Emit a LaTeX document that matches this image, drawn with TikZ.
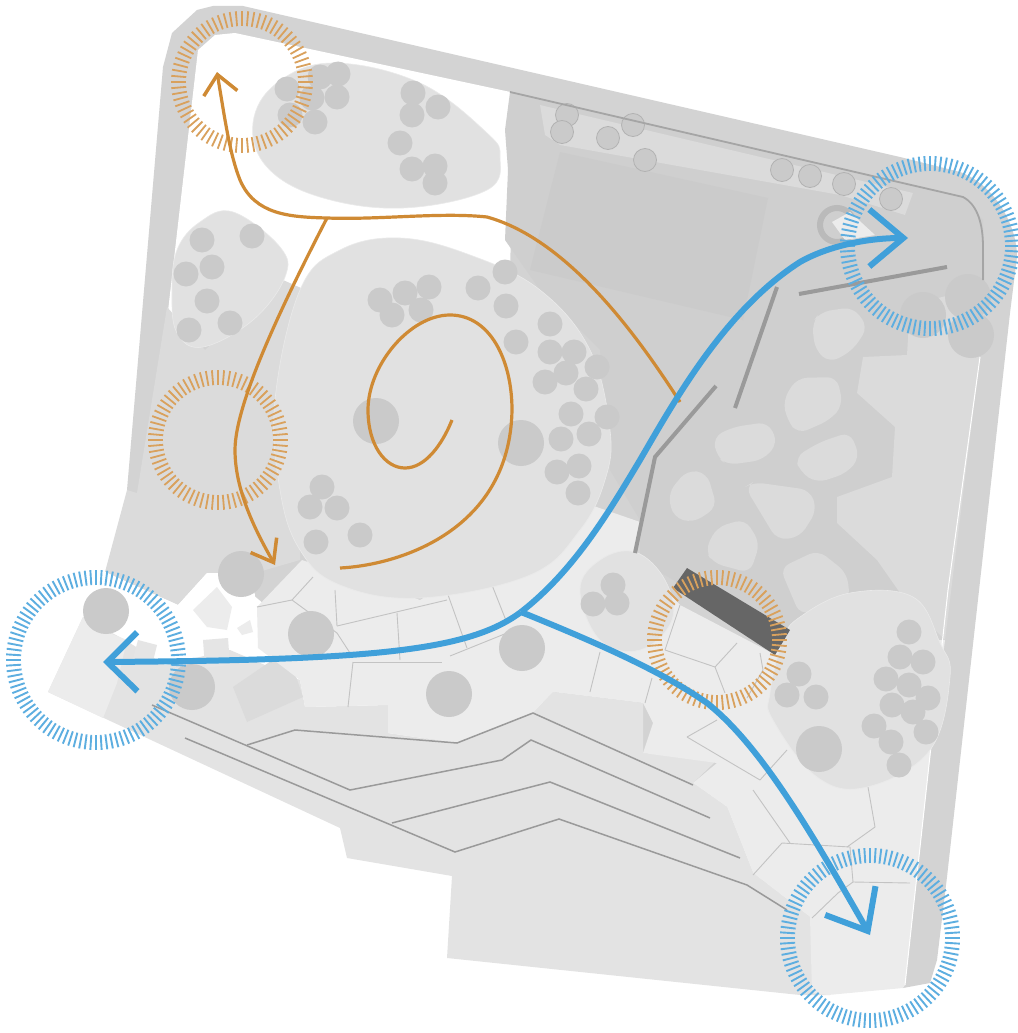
\documentclass[tikz,border=0pt]{standalone}
\usepackage{xcolor}
\usetikzlibrary{arrows.meta,calc}
\definecolor{gardenband}{RGB}{211,211,211}
\definecolor{gardencourt}{RGB}{207,207,207}
\definecolor{gardenbed}{RGB}{225,225,225}
\definecolor{gardenside}{RGB}{219,219,219}
\definecolor{gardenterrace}{RGB}{227,227,227}
\definecolor{gardenpave}{RGB}{236,236,236}
\definecolor{gardenstep}{RGB}{229,229,229}
\definecolor{gardentree}{RGB}{202,202,202}
\definecolor{gardenwall}{RGB}{154,154,154}
\definecolor{gardenjoint}{RGB}{195,195,195}
\definecolor{routeblue}{RGB}{64,160,218}
\definecolor{routeorange}{RGB}{207,138,52}
\newcommand{\hatchring}[6]{
  \foreach \a in {0,#4,...,359}
    \draw[#6] ($(#1,#2)+(\a:#3-#5)$) -- ($(#1,#2)+(\a:#3)$);
}
\begin{document}
\begin{tikzpicture}[
  x=1pt, y=-1pt,
  bed/.style={fill=gardenbed, draw=gardenbed!70!white, line width=0.6pt},
  stone/.style={fill=gardenside, rounded corners=10pt},
  tree/.style={fill=gardentree},
  wall/.style={draw=gardenwall, line width=4pt},
  terraceline/.style={draw=gardenwall, line width=1.5pt},
  joint/.style={draw=gardenjoint, line width=0.9pt},
  ticksblue/.style={draw=routeblue!85, line width=1.9pt},
  ticksorange/.style={draw=routeorange!80, line width=1.8pt},
  bluepath/.style={draw=routeblue, line width=6pt},
  orangepath/.style={draw=routeorange, line width=3.2pt}
]
  \useasboundingbox (0,0) rectangle (1017,1033);

  \fill[gardenband] (127,490) -- (163,67) -- (172,33) -- (197,10) -- (213,6) -- (243,6) -- (900,157)
    -- (960,172) .. controls (995,185) and (1017,225) .. (1017,257) -- (1010,313) -- (947,877) -- (937,960)
    -- (930,983) -- (903,988) -- (500,800) -- cycle;
  \fill[white] (198,50) -- (215,35) -- (235,33) -- (515,93) -- (510,270) -- (300,315) -- (167,320) -- cycle;
  \fill[gardenside] (137,493) -- (167,307) -- (205,350) -- (283,280) -- (310,292) -- (300,480) -- (300,560)
    -- (255,573) -- (207,573) -- (178,605) -- (105,572) -- (127,490) -- cycle;
  \fill[gardencourt] (510,92) -- (963,197) -- (983,220) -- (985,290) -- (980,357) -- (948,600) -- (790,650)
    -- (640,560) -- (640,520) -- (610,470) -- (600,350) -- (540,290) -- (505,240) -- (508,170) -- (505,130) -- cycle;

  \fill[white] (105,572) -- (178,605) -- (207,573) -- (252,573) -- (262,650) -- (165,680) -- (90,640) -- cycle;
  \fill[gardenpave] (193,610) -- (217,587) -- (232,607) -- (227,630) -- (207,627) -- cycle;
  \fill[gardenpave] (237,628) -- (250,620) -- (253,632) -- (242,635) -- cycle;

  \fill[gardenterrace] (83,617) -- (48,692) -- (340,828) -- (347,858) -- (452,876) -- (447,958) -- (800,995)
    -- (830,995) -- (810,917) -- (753,873) -- (727,807) -- (693,783) -- (717,760) -- (643,753) -- (643,703)
    -- (553,692) -- (533,713) -- (457,743) -- (388,733) -- (388,705) -- (305,707) -- (300,680) -- (230,650)
    -- (165,665) -- (125,640) -- cycle;
  \fill[gardenpave] (83,617) -- (48,692) -- (103,718) -- (117,683) -- (127,640) -- (107,632) -- cycle;
  \fill[gardenstep] (203,640) -- (228,638) -- (230,665) -- (205,668) -- cycle;
  \fill[gardenstep] (138,640) -- (157,645) -- (152,665) -- (132,662) -- cycle;
  \fill[gardenside] (233,687) -- (287,650) -- (303,697) -- (247,722) -- cycle;

  \fill[gardenpave] (257,607) -- (302,560) -- (420,600) -- (585,503) -- (640,522) -- (635,552) -- (680,605)
    -- (770,652) -- (800,640) -- (945,640) -- (930,757) -- (905,985) -- (903,988) -- (828,995) -- (812,993) -- (810,917)
    -- (753,873) -- (727,807) -- (693,783) -- (717,763) -- (643,753) -- (653,723) -- (643,703) -- (553,692) -- (533,713)
    -- (457,743) -- (388,733) -- (388,705) -- (305,707) -- (300,680) -- (258,648) -- cycle;

  \fill[gardenside] (863,357) -- (907,355) -- (910,305) -- (950,295) -- (985,300) -- (980,357) -- (945,640)
    -- (905,600) -- (877,560) -- (837,523) -- (837,497) -- (892,477) -- (895,427) -- (857,393) -- cycle;
  \draw[white, line width=1pt] (980,357) -- (948,590) -- (905,985);

  \fill[gardentree!85!gardencourt] (560,152) -- (768,198) -- (743,320) -- (530,270) -- cycle;
  \fill[gardenside] (540,105) -- (913,193) -- (905,215) -- (840,195) -- (560,145) -- (545,135) -- cycle;

  \fill[stone] (812,323) -- (820,312) -- (853,307) -- (868,327) -- (853,350) -- (830,363) -- (815,350) -- cycle;
  \fill[stone] (783,400) -- (797,378) -- (837,377) -- (843,405) -- (830,420) -- (798,434) -- (787,420) -- cycle;
  \fill[stone] (713,437) -- (733,427) -- (768,422) -- (778,443) -- (763,460) -- (727,465) -- (717,457) -- cycle;
  \fill[stone] (795,457) -- (820,442) -- (850,432) -- (860,457) -- (847,473) -- (817,483) -- (800,472) -- cycle;
  \fill[stone] (668,493) -- (687,470) -- (707,473) -- (717,507) -- (693,523) -- (673,517) -- cycle;
  \fill[stone] (745,487) -- (753,482) -- (810,490) -- (817,510) -- (800,537) -- (777,540) -- cycle;
  \fill[stone] (705,550) -- (717,527) -- (745,519) -- (760,543) -- (750,573) -- (713,563) -- cycle;
  \fill[stone] (780,568) -- (818,550) -- (847,573) -- (850,600) -- (800,615) -- cycle;

  \foreach \xa/\ya/\xb/\yb in {257/607/292/600, 292/600/313/577, 292/600/337/633, 337/633/350/653,
      335/590/337/626, 337/626/447/600, 397/613/400/660, 447/592/467/648, 490/580/507/623, 450/656/507/633,
      353/662/442/662, 353/662/348/707, 600/652/590/692, 652/678/645/703, 680/605/665/650, 665/650/715/667,
      715/667/737/643, 715/667/725/693, 760/653/763/670, 763/670/747/698, 687/737/717/720, 687/737/760/780,
      760/780/787/750, 753/790/790/843, 868/787/875/827, 875/827/847/847, 782/843/850/847, 782/843/753/875,
      850/847/853/882, 853/882/910/883, 853/882/838/893, 838/893/812/918}
    \draw[joint] (\xa,\ya) -- (\xb,\yb);

  \draw[terraceline] (152,705) -- (350,790) -- (502,760) -- (531,740) -- (710,818);
  \draw[terraceline] (247,745) -- (295,730) -- (457,743) -- (533,713) -- (693,785);
  \draw[terraceline] (185,738) -- (455,852) -- (559,819) -- (747,885) -- (787,910);
  \draw[terraceline] (392,823) -- (550,782) -- (740,858);

  \draw[bed] plot[smooth cycle, tension=0.65] coordinates {(253,123) (277,83) (333,63) (420,83) (487,133)
    (500,157) (487,190) (403,208) (320,197) (267,167)};
  \draw[bed] plot[smooth cycle, tension=0.65] coordinates {(233,212) (280,247) (285,277) (253,320) (203,347)
    (177,333) (172,293) (177,250) (200,222)};
  \draw[bed] plot[smooth cycle, tension=0.65] coordinates {(300,290) (340,250) (400,238) (470,255) (540,290)
    (590,350) (610,430) (605,480) (580,530) (530,575) (420,598) (340,585) (300,550) (280,490) (275,400)};
  \draw[bed] plot[smooth cycle, tension=0.65] coordinates {(580,590) (600,560) (635,552) (665,580) (672,620)
    (640,650) (600,640)};
  \draw[bed] plot[smooth cycle, tension=0.65] coordinates {(800,617) (850,593) (913,597) (940,643) (950,677)
    (930,750) (867,787) (817,777) (773,720) (770,693) (783,640)};

  \foreach \x/\y in {287/89, 320/77, 338/74, 337/97, 312/98, 290/115, 315/122, 413/93, 438/107, 412/115,
      400/143, 412/169, 435/166, 435/183,
      202/240, 252/236, 186/274, 212/267, 207/301, 230/323, 189/330,
      380/300, 405/293, 429/287, 392/315, 421/310, 478/288, 505/272, 506/306, 516/342, 550/324, 550/352,
      574/352, 597/367, 566/373, 545/382, 586/389, 607/417, 571/414, 589/434, 561/439, 579/466, 557/472,
      578/493, 322/487, 310/507, 337/508, 316/542, 360/535,
      613/585, 593/604, 617/603,
      909/632, 900/657, 923/662, 886/679, 909/685, 928/698, 892/705, 913/712, 926/732, 874/726, 891/742,
      899/765, 799/674, 787/695, 816/697}
    \fill[tree] (\x,\y) circle (12.5pt);

  \foreach \x/\y in {376/421, 521/443, 241/574, 106/611, 192/687, 311/634, 449/694, 522/648, 819/749,
      923/315, 968/297, 971/335}
    \fill[tree] (\x,\y) circle (23pt);

  \foreach \x/\y in {567/115, 562/132, 608/138, 633/125, 645/160, 782/170, 810/176, 844/184, 891/199}
    \filldraw[fill=gardentree, draw=gardentree!88!black, line width=0.8pt] (\x,\y) circle (11.5pt);
  \draw[gardentree!92!black, line width=6pt] (837,225) circle (17pt);
  \fill[gardenpave] (832,222) -- (850,212) -- (875,235) -- (845,240) -- cycle;

  \draw[gardenwall!80!gardencourt, line width=1.8pt] (510,92) -- (963,197) .. controls (978,205) and (983,225) .. (983,247) -- (983,280);
  \draw[wall] (947,267) -- (799,294);
  \draw[wall] (777,287) -- (735,408);
  \draw[wall] (716,386) -- (655,457) -- (635,553);
  \fill[black!60] (687,568) -- (790,630) -- (775,655) -- (673,588) -- cycle;

  \hatchring{242}{82}{71}{5}{15}{ticksorange}
  \hatchring{218}{440}{70}{5}{15}{ticksorange}
  \hatchring{717}{640}{70}{5}{15}{ticksorange}
  \hatchring{96}{660}{90}{3.6}{15}{ticksblue}
  \hatchring{930}{246}{90}{3.6}{15}{ticksblue}
  \hatchring{870}{938}{90}{3.6}{15}{ticksblue}

  \coordinate (forkorange) at (327,218);
  \coordinate (forkblue) at (521,612);
  \draw[orangepath, -{Straight Barb[length=19pt,width=34pt,line width=3.5pt]}]
    (680,402) .. controls (640,340) and (570,240) .. (487,217) .. controls (440,212) and (380,220) .. (forkorange)
    .. controls (290,217) and (255,215) .. (240,180) .. controls (230,155) and (225,120) .. (217,72);
  \draw[orangepath, -{Straight Barb[length=20pt,width=30pt,line width=3.5pt]}]
    (forkorange) .. controls (290,290) and (235,400) .. (235,450) .. controls (235,490) and (255,530) .. (275,565);
  \draw[orangepath] (340,568) .. controls (400,565) and (510,530) .. (512,410) .. controls (512,360) and (490,315) .. (450,315)
    .. controls (410,315) and (368,365) .. (368,410) .. controls (368,445) and (385,468) .. (405,468)
    .. controls (425,468) and (442,445) .. (452,420);

  \draw[bluepath, -{Straight Barb[length=34pt,width=57pt,line width=6pt]}]
    (forkblue) .. controls (575,570) and (610,510) .. (640,460) .. controls (675,400) and (725,310) .. (800,262)
    .. controls (830,245) and (870,238) .. (908,238);
  \draw[bluepath, -{Straight Barb[length=30pt,width=59pt,line width=6pt]}]
    (forkblue) .. controls (470,650) and (380,660) .. (103,662);
  \draw[bluepath, -{Straight Barb[length=35pt,width=58pt,line width=6pt]}]
    (forkblue) .. controls (590,640) and (660,670) .. (707,703) .. controls (760,745) and (810,830) .. (870,935);
\end{tikzpicture}
\end{document}
